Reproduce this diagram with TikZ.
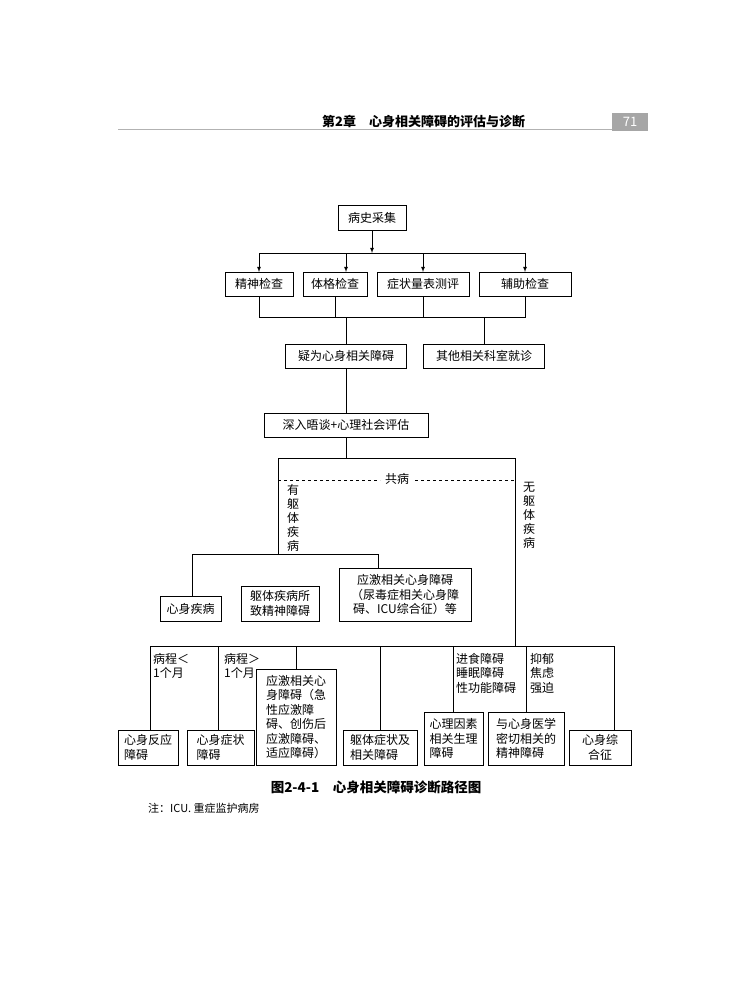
\documentclass[tikz,border=0pt]{standalone}
\usepackage{fontspec}
\setmainfont{Noto Sans CJK SC}
\begin{document}
\begin{tikzpicture}[x=1pt,y=-1pt,
 bx/.style={draw,line width=0.8pt,inner sep=0pt,font=\fontsize{12}{14.5}\selectfont,align=center},
 ln/.style={line width=0.8pt},
 lb/.style={font=\fontsize{12}{14.5}\selectfont,align=left,anchor=north west,inner sep=0pt},
 vl/.style={font=\fontsize{12}{14}\selectfont,align=center,anchor=north,inner sep=0pt}]
\useasboundingbox (0,0) rectangle (750,1000);
% header
\node[font=\bfseries\fontsize{13}{15}\selectfont,anchor=base west,inner sep=0pt] (hd) at (322,127) {第2章\quad 心身相关障碍的评估与诊断};
\draw[gray!60,line width=1pt] (118,130) -- (648,130);
\node[fill=gray!70,text=white,minimum width=36pt,minimum height=18pt,inner sep=0pt,font=\fontsize{13}{15}\selectfont] (pg) at (630,122) {71};
% boxes
\node[bx,minimum width=68pt,minimum height=25pt] (a) at (372,217.5) {病史采集};
\node[bx,minimum width=68pt,minimum height=24pt] (b1) at (259,284) {精神检查};
\node[bx,minimum width=64pt,minimum height=24pt] (b2) at (335,284) {体格检查};
\node[bx,minimum width=92pt,minimum height=24pt] (b3) at (423,284) {症状量表测评};
\node[bx,minimum width=92pt,minimum height=24pt] (b4) at (525,284) {辅助检查};
\node[bx,minimum width=121pt,minimum height=24pt] (c1) at (346,356) {疑为心身相关障碍};
\node[bx,minimum width=121pt,minimum height=24pt] (c2) at (484,356) {其他相关科室就诊};
\node[bx,minimum width=164pt,minimum height=24pt] (d) at (346,425) {深入晤谈+心理社会评估};
\node[bx,minimum width=61pt,minimum height=25pt] (e1) at (190.5,608.5) {心身疾病};
\node[bx,minimum width=78pt,minimum height=35pt] (e2) at (280,603.5) {躯体疾病所\\致精神障碍};
\node[bx,minimum width=132pt,minimum height=53pt] (e3) at (405,594.5) {应激相关心身障碍\\（尿毒症相关心身障\\碍、ICU综合征）等};
\node[bx,minimum width=60pt,minimum height=35pt,align=left] (f1) at (148,747.5) {心身反应\\障碍};
\node[bx,minimum width=67pt,minimum height=35pt,align=left] (f2) at (220.5,747.5) {心身症状\\障碍};
\node[bx,minimum width=80pt,minimum height=96pt,align=left] (f3) at (296,717) {应激相关心\\身障碍（急\\性应激障\\碍、创伤后\\应激障碍、\\适应障碍）};
\node[bx,minimum width=74pt,minimum height=35pt,align=left] (f4) at (380,747.5) {躯体症状及\\相关障碍};
\node[bx,minimum width=59pt,minimum height=53pt,align=left] (f5) at (453.5,738.5) {心理因素\\相关生理\\障碍};
\node[bx,minimum width=76pt,minimum height=53pt,align=left] (f6) at (526,738.5) {与心身医学\\密切相关的\\精神障碍};
\node[bx,minimum width=62pt,minimum height=35pt] (f7) at (600,747.5) {心身综\\合征};
% connectors
\coordinate (t) at (372,253);
\draw[ln,-latex] (a) -- (t);
\draw[ln] (259,253) -- (525,253);
\foreach \n/\x in {b1/259,b2/346,b3/423,b4/525} \draw[ln,-latex] (\x,253) -- (\x,272);
\draw[ln] (b1.south) -- (259,317) -- (525,317) -- (b4.south);
\draw[ln] (b2.south) -- (335,317);
\draw[ln] (b3.south) -- (423,317);
\draw[ln] (346,317) -- (c1.north);
\draw[ln] (484,317) -- (c2.north);
\draw[ln] (c1) -- (d);
\draw[ln] (d.south) -- (346,458);
\draw[ln] (278,458) -- (515,458);
\draw[ln] (278,458) -- (278,554);
\draw[ln] (515,458) -- (515,646);
\draw[ln,dashed,dash pattern=on 3pt off 3pt] (278,480) -- (380,480);
\draw[ln,dashed,dash pattern=on 3pt off 3pt] (415,480) -- (515,480);
\node[font=\fontsize{12}{14}\selectfont,inner sep=0pt] (gb) at (397,479) {共病};
\node[vl] (l1) at (293,484) {有\\躯\\体\\疾\\病};
\node[vl] (l2) at (529,482) {无\\躯\\体\\疾\\病};
\draw[ln] (192,554) -- (378,554);
\draw[ln] (192,554) -- (e1.north -| 192,0);
\draw[ln] (378,554) -- (e3.north -| 378,0);
\draw[ln] (150,646) -- (614,646);
\draw[ln] (150,646) -- (f1.north -| 150,0);
\draw[ln] (218,646) -- (f2.north -| 218,0);
\draw[ln] (296,646) -- (f3.north);
\draw[ln] (380,646) -- (f4.north);
\draw[ln] (453,646) -- (f5.north -| 453,0);
\draw[ln] (526,646) -- (f6.north);
\draw[ln] (614,646) -- (f7.north -| 614,0);
\node[lb] (g1) at (153,653) {病程＜\\1个月};
\node[lb] (g2) at (224,653) {病程＞\\1个月};
\node[lb] (g3) at (456,653) {进食障碍\\睡眠障碍\\性功能障碍};
\node[lb] (g4) at (530,653) {抑郁\\焦虑\\强迫};
\node[font=\bfseries\fontsize{13.5}{15}\selectfont,inner sep=0pt] (cap) at (376,787) {图2-4-1\quad 心身相关障碍诊断路径图};
\node[font=\fontsize{11}{13}\selectfont,anchor=west,inner sep=0pt] (nt) at (148,808) {注：ICU.\ 重症监护病房};
\end{tikzpicture}
\end{document}
